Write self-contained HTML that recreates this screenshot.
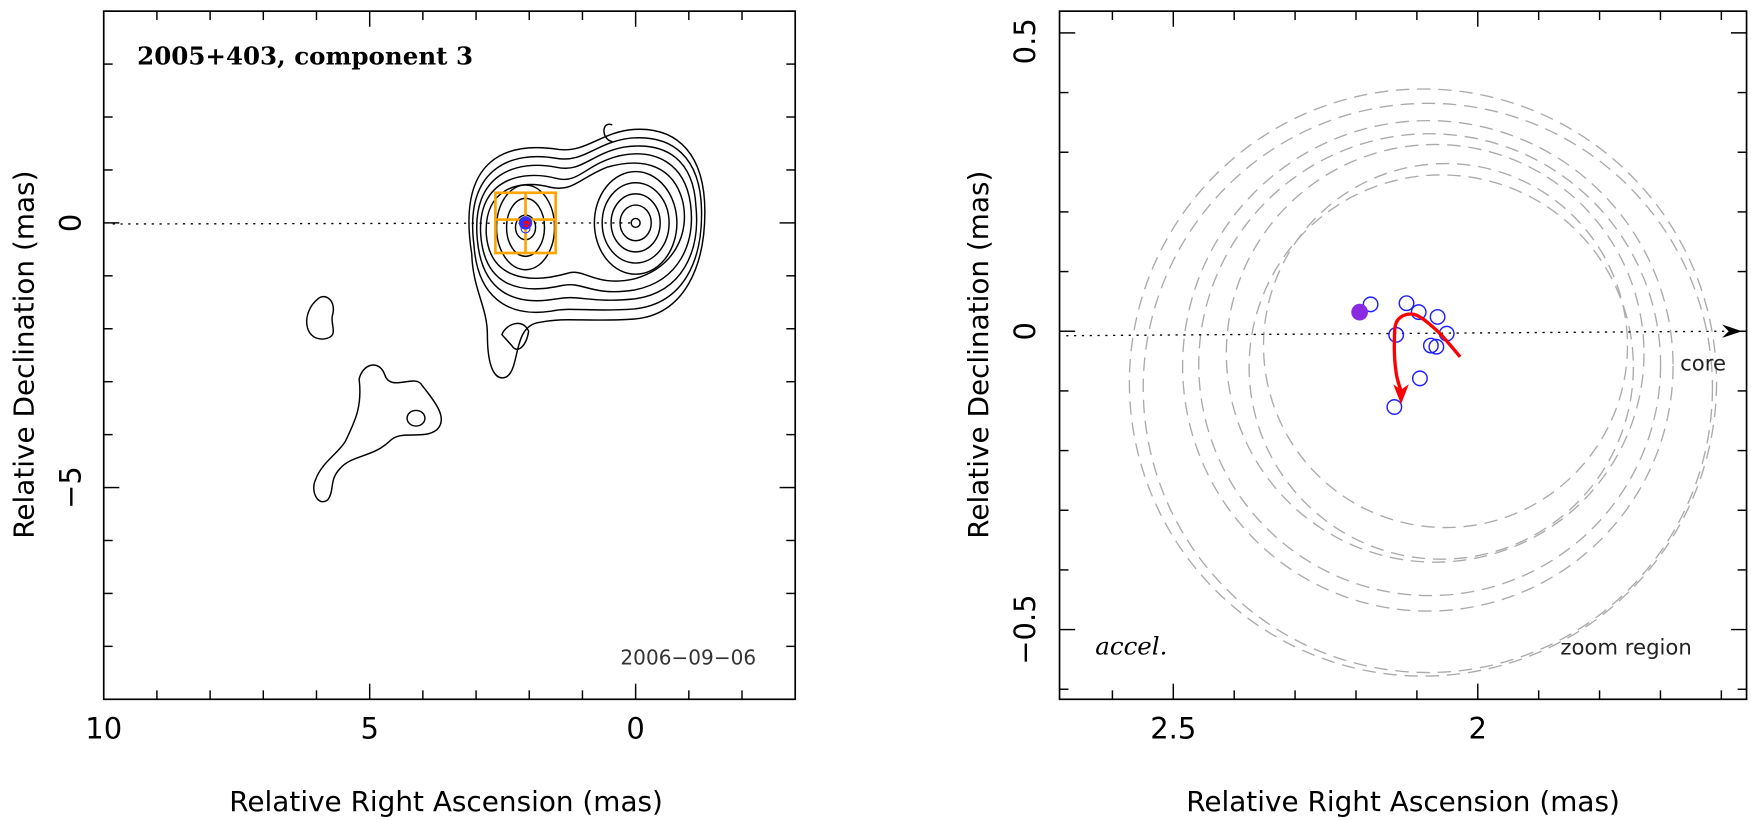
<!DOCTYPE html>
<html><head><meta charset="utf-8"><style>
html,body{margin:0;padding:0;background:#fff;}
svg{display:block;font-family:"DejaVu Sans","Liberation Sans",sans-serif;}
</style></head><body>
<svg id="fig" width="1751" height="820" viewBox="0 0 1751 820">
<g transform="scale(1.1153)">
<g id="left"></g>
<g id="right"></g>
</g>
</svg>
<script>
// ---- Left panel data ----
const leftXTicks = [10, 5, 0];
const leftYTicks = [0, -5];
const compRA = [2.07];
const compDec = [0.0];
// ---- Right panel data ----
const rightXTicks = [2.5, 2];
const rightYTicks = [0.5, 0, -0.5];
const epochRA = [2.176, 2.134, 2.117, 2.097, 2.066, 2.051, 2.068, 2.077, 2.095, 2.137];
const epochDec = [0.045, -0.006, 0.047, 0.032, 0.024, -0.004, -0.026, -0.024, -0.079, -0.127];
const refRA = [2.194];
const refDec = [0.032];
const circRA = [2.090, 2.082, 2.082, 2.079, 2.070, 2.053, 2.060];
const circDec = [-0.086, -0.095, -0.058, -0.056, -0.037, -0.024, -0.060];
const circR = [0.492, 0.477, 0.411, 0.387, 0.350, 0.305, 0.322];
const curveRA = [2.029, 2.066, 2.104, 2.132, 2.137, 2.134, 2.126];
const curveDec = [-0.043, 0.0, 0.028, 0.018, -0.02, -0.07, -0.10];

const NS = "http://www.w3.org/2000/svg";
function mk(parent, tag, attrs, text){
  const e = document.createElementNS(NS, tag);
  for (const k in attrs) e.setAttribute(k, attrs[k]);
  if (text !== undefined) e.textContent = text;
  parent.appendChild(e); return e;
}
const L = {x0:93, x1:713, y0:10, y1:627, ra0:10, ra1:-3, d0:4, d1:-9};
const lx = ra => L.x0 + (L.ra0 - ra) / (L.ra0 - L.ra1) * (L.x1 - L.x0);
const ly = d => L.y0 + (L.d0 - d) / (L.d0 - L.d1) * (L.y1 - L.y0);
const R = {x0:950, x1:1566};
const rx = ra => 1325 + (2 - ra) * 546;
const ry = d => 297 - d * 535;

const left = document.getElementById('left');
const right = document.getElementById('right');

// ---------- LEFT ----------
let fr = mk(left,'rect',{x:L.x0,y:L.y0,width:L.x1-L.x0,height:L.y1-L.y0,fill:'none',stroke:'#000','stroke-width':1.5});


for (let v=-3; v<=10; v++){
  const len = (v%5===0)?14:8, x=lx(v);
  let t=mk(left,'line',{x1:x,y1:L.y1,x2:x,y2:L.y1-len,stroke:'#000','stroke-width':1.3});
   
  mk(left,'line',{x1:x,y1:L.y0,x2:x,y2:L.y0+len,stroke:'#000','stroke-width':1.3});
}
for (let v=-9; v<=4; v++){
  const len=(v%5===0)?14:8, y=ly(v);
  let t=mk(left,'line',{x1:L.x0,y1:y,x2:L.x0+len,y2:y,stroke:'#000','stroke-width':1.3});
   
  mk(left,'line',{x1:L.x1,y1:y,x2:L.x1-len,y2:y,stroke:'#000','stroke-width':1.3});
}
leftXTicks.forEach(v=>{
  let t=mk(left,'text',{x:lx(v),y:662,'text-anchor':'middle','font-size':26},String(v).replace('-','−'));
   
});
leftYTicks.forEach(v=>{
  const y=ly(v);
  let t=mk(left,'text',{x:72,y:y,'text-anchor':'middle','font-size':26,transform:`rotate(-90 72 ${y})`},String(v).replace('-','−'));
   
});
let xl=mk(left,'text',{x:400,y:727,'text-anchor':'middle','font-size':25},'Relative Right Ascension (mas)');
 
let yl=mk(left,'text',{x:30,y:318,'text-anchor':'middle','font-size':25,transform:'rotate(-90 30 318)'},'Relative Declination (mas)');
 
let ti=mk(left,'text',{x:123,y:58,'font-size':22,'font-weight':'bold','font-family':'DejaVu Serif, serif'},'2005+403, component 3');
 
let dt=mk(left,'text',{x:678,y:596,'text-anchor':'end','font-size':18,fill:'#333'},'2006−09−06');
 
let dl=mk(left,'line',{x1:L.x0+8,y1:ly(0)+1,x2:lx(0),y2:ly(0),stroke:'#000','stroke-width':1.2,'stroke-dasharray':'2 5'});
 
const cg = mk(left,'g',{fill:'none',stroke:'#000','stroke-width':1.3});
 
const cx=lx(0), cy=ly(0), kx=lx(compRA[0]), ky=ly(compDec[0]);
[[4,4],[14,16],[22,26],[30,36],[37,46]].forEach(r=>mk(cg,'ellipse',{cx:cx,cy:cy,rx:r[0],ry:r[1]}));
[[9,11],[17,26],[26,38]].forEach(r=>mk(cg,'ellipse',{cx:kx,cy:ky+4,rx:r[0],ry:r[1]}));
const env=[
 'M432,210 C430,170 460,160 490,168 C510,172 515,160 540,150 C575,140 600,150 608,180 C615,210 600,240 565,250 C530,258 520,240 505,245 C470,255 435,250 432,210 Z',
 'M427,210 C424,160 465,152 495,160 C515,165 520,148 550,140 C585,132 610,148 615,182 C620,218 605,252 565,260 C525,266 520,252 500,256 C460,265 430,255 427,210 Z',
 'M424,215 C418,155 460,143 495,150 C518,155 525,138 555,132 C595,126 618,145 620,185 C624,225 608,262 565,268 C525,272 515,264 495,268 C455,275 428,260 424,215 Z',
 'M421,220 C412,150 455,135 495,142 C520,146 530,128 560,124 C600,120 624,142 625,188 C626,232 610,272 565,277 C525,280 510,275 490,279 C450,285 424,265 421,220 Z',
 'M419,228 C405,140 452,127 497,134 C522,137 535,118 565,116 C605,114 628,140 628,190 C628,238 610,282 565,286 C520,289 505,284 480,289 C455,292 463,330 450,338 C440,342 433,330 433,300 C433,275 420,260 419,228 Z',
];
const eg = mk(cg,'g',{transform:'translate(4,0)'});
env.forEach(d=>mk(eg,'path',{d:d}));
mk(eg,'path',{d:'M446,300 C450,290 465,285 470,297 C468,310 460,318 455,310 Z'});
mk(eg,'path',{d:'M545,112 C535,108 535,125 545,127'});
mk(cg,'path',{d:'M285,268 C292,262 302,270 298,283 C296,292 305,302 290,304 C272,305 270,280 285,268 Z'});
mk(cg,'path',{d:'M322,340 C325,326 340,322 345,336 C350,352 372,335 378,345 C390,360 402,375 392,385 C380,395 360,385 350,395 C335,410 315,408 305,420 C295,430 300,440 294,448 C285,455 278,440 283,430 C288,415 305,405 310,395 C318,378 325,365 322,340 Z'});
mk(cg,'ellipse',{cx:373,cy:375,rx:8,ry:7});
const ob=mk(left,'g',{fill:'none',stroke:'#FFA500','stroke-width':2.4});
 
mk(ob,'rect',{x:kx-27,y:ky-27,width:54,height:54});
mk(ob,'line',{x1:kx,y1:ky-27,x2:kx,y2:ky+27});
mk(ob,'line',{x1:kx-27,y1:ky-3,x2:kx+27,y2:ky-3});
let cd=mk(left,'circle',{cx:kx,cy:ky,r:6,fill:'#3030ff'});
 
mk(left,'circle',{cx:kx+1,cy:ky+1,r:3,fill:'#ff0000'});
mk(left,'ellipse',{cx:kx,cy:ky+5,rx:4,ry:4,fill:'none',stroke:'#3030ff','stroke-width':1});

// ---------- RIGHT ----------
let fr2=mk(right,'rect',{x:950,y:10,width:616,height:617,fill:'none',stroke:'#000','stroke-width':1.5});
 
for (let i=0;i<=14;i++){
  const v=2.8-i*0.1, x=rx(v); if(x<R.x0||x>R.x1) continue;
  const major=Math.abs(v*2-Math.round(v*2))<1e-6, len=major?14:8;
  let t=mk(right,'line',{x1:x,y1:627,x2:x,y2:627-len,stroke:'#000','stroke-width':1.3});
   
  mk(right,'line',{x1:x,y1:10,x2:x,y2:10+len,stroke:'#000','stroke-width':1.3});
}
for (let i=-7;i<=6;i++){
  const v=i*0.1, y=ry(v); if(y<10||y>627) continue;
  const len=(i%5===0)?14:8;
  let t=mk(right,'line',{x1:950,y1:y,x2:950+len,y2:y,stroke:'#000','stroke-width':1.3});
   
  mk(right,'line',{x1:1566,y1:y,x2:1566-len,y2:y,stroke:'#000','stroke-width':1.3});
}
rightXTicks.forEach(v=>{
  let t=mk(right,'text',{x:rx(v),y:662,'text-anchor':'middle','font-size':26},String(v));
   
});
rightYTicks.forEach(v=>{
  const y=Math.max(ry(v),37);
  let t=mk(right,'text',{x:928,y:y,'text-anchor':'middle','font-size':26,transform:`rotate(-90 928 ${y})`},String(v).replace('-','−'));
   
});
let xl2=mk(right,'text',{x:1258,y:727,'text-anchor':'middle','font-size':25},'Relative Right Ascension (mas)');
 
let yl2=mk(right,'text',{x:886,y:318,'text-anchor':'middle','font-size':25,transform:'rotate(-90 886 318)'},'Relative Declination (mas)');
 
circRA.forEach((c,i)=>{
  let e=mk(right,'circle',{cx:rx(c),cy:ry(circDec[i]),r:circR[i]*535,fill:'none',stroke:'#aaa','stroke-width':1.2,'stroke-dasharray':'12 7'});
   
});
let dl2=mk(right,'line',{x1:956,y1:ry(0)+4,x2:1548,y2:ry(0),stroke:'#000','stroke-width':1.2,'stroke-dasharray':'2 5'});
 
let ah=mk(right,'path',{d:`M1562,${ry(0)} L1544,${ry(0)-6} L1550,${ry(0)} L1544,${ry(0)+6} Z`,fill:'#000'});
 
let ct=mk(right,'text',{x:1527,y:332,'text-anchor':'middle','font-size':19,fill:'#222'},'core');
 
let zt=mk(right,'text',{x:1458,y:587,'text-anchor':'middle','font-size':19,fill:'#222'},'zoom region');
 
let at=mk(right,'text',{x:982,y:587,'font-size':22,'font-style':'italic','font-family':'DejaVu Serif, serif'},'accel.');
 
epochRA.forEach((r,i)=>{
  let p=mk(right,'circle',{cx:rx(r),cy:ry(epochDec[i]),r:6.5,fill:'none',stroke:'#2020ff','stroke-width':1.3});
   
});
let rp=mk(right,'circle',{cx:rx(refRA[0]),cy:ry(refDec[0]),r:7.5,fill:'#8a2be2'});
 
const pts=curveRA.map((r,i)=>[rx(r),ry(curveDec[i])]);
let d='M'+pts[0][0]+','+pts[0][1];
for(let i=0;i<pts.length-1;i++){
  const p0=pts[Math.max(i-1,0)],p1=pts[i],p2=pts[i+1],p3=pts[Math.min(i+2,pts.length-1)];
  const c1=[p1[0]+(p2[0]-p0[0])/6,p1[1]+(p2[1]-p0[1])/6];
  const c2=[p2[0]-(p3[0]-p1[0])/6,p2[1]-(p3[1]-p1[1])/6];
  d+=` C${c1[0]},${c1[1]} ${c2[0]},${c2[1]} ${p2[0]},${p2[1]}`;
}
let rc=mk(right,'path',{d:d,fill:'none',stroke:'#ff0000','stroke-width':3,'stroke-linejoin':'round'});
 
const n=pts.length-1, ex=pts[n][0], ey=pts[n][1]+4;
let ra2=mk(right,'path',{d:`M${ex},${ey+8} L${ex-7},${ey-10} L${ex},${ey-5} L${ex+7},${ey-10} Z`,fill:'#ff0000'});
 
</script>
</body></html>
